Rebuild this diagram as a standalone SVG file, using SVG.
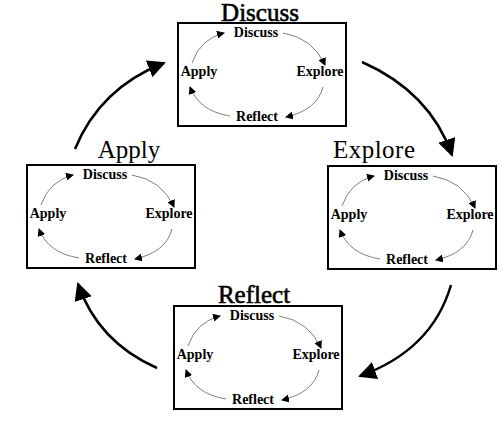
<svg xmlns="http://www.w3.org/2000/svg" width="503" height="428" viewBox="0 0 503 428">
<style>
.box{fill:#fff;stroke:#000;stroke-width:2}
.title{font-family:"Liberation Serif",serif;font-size:25px;text-anchor:middle;fill:#000}
.heavy{stroke:#000;stroke-width:0.6}
.lbl{font-family:"Liberation Serif",serif;font-size:14px;font-weight:bold;text-anchor:middle;fill:#000}
.arc{fill:none;stroke:#808080;stroke-width:1;marker-end:url(#sm)}
.big{fill:none;stroke:#000;stroke-width:2.5;marker-end:url(#bg)}
</style>
<defs>
<marker id="sm" markerUnits="userSpaceOnUse" markerWidth="8" markerHeight="8" refX="7" refY="4" orient="auto" viewBox="0 0 8 8"><path d="M0,0 L8,4 L0,8 z" fill="#000"/></marker>
<marker id="bg" markerUnits="userSpaceOnUse" markerWidth="18" markerHeight="18" refX="16" refY="9" orient="auto" viewBox="0 0 18 18"><path d="M0,0 L18,9 L0,18 z" fill="#000"/></marker>
</defs>
<g id="connectors">
<path class="big" d="M75,149 Q100,88 164,63"/>
<path class="big" d="M362,62 Q430,92 452,155"/>
<path class="big" d="M451,285 Q432,350 360,376"/>
<path class="big" d="M157,368 Q98,342 78,284"/>
</g>
<g id="discuss">
<text class="title heavy" x="260" y="21">Discuss</text>
<g transform="translate(178,23)">
<rect class="box" x="0" y="0" width="168" height="103"/>
<path class="arc" d="M105,10 Q135,15 147,42"/>
<path class="arc" d="M145,64 Q139,87 108,94"/>
<path class="arc" d="M52,93 Q21,88 12,64"/>
<path class="arc" d="M14,40 Q22,16 46,10"/>
<text class="lbl" x="78" y="14">Discuss</text>
<text class="lbl" x="21" y="53">Apply</text>
<text class="lbl" x="142" y="53">Explore</text>
<text class="lbl" x="79" y="98">Reflect</text>
</g>
</g>
<g id="apply">
<text class="title" x="129" y="158">Apply</text>
<g transform="translate(27,165)">
<rect class="box" x="0" y="0" width="168" height="103"/>
<path class="arc" d="M105,10 Q135,15 147,42"/>
<path class="arc" d="M145,64 Q139,87 108,94"/>
<path class="arc" d="M52,93 Q21,88 12,64"/>
<path class="arc" d="M14,40 Q22,16 46,10"/>
<text class="lbl" x="78" y="14">Discuss</text>
<text class="lbl" x="21" y="53">Apply</text>
<text class="lbl" x="142" y="53">Explore</text>
<text class="lbl" x="79" y="98">Reflect</text>
</g>
</g>
<g id="explore">
<text class="title" x="374" y="158" textLength="82" lengthAdjust="spacing">Explore</text>
<g transform="translate(328,166)">
<rect class="box" x="0" y="0" width="168" height="103"/>
<path class="arc" d="M105,10 Q135,15 147,42"/>
<path class="arc" d="M145,64 Q139,87 108,94"/>
<path class="arc" d="M52,93 Q21,88 12,64"/>
<path class="arc" d="M14,40 Q22,16 46,10"/>
<text class="lbl" x="78" y="14">Discuss</text>
<text class="lbl" x="21" y="53">Apply</text>
<text class="lbl" x="142" y="53">Explore</text>
<text class="lbl" x="79" y="98">Reflect</text>
</g>
</g>
<g id="reflect">
<text class="title heavy" x="254" y="303">Reflect</text>
<g transform="translate(174,306)">
<rect class="box" x="0" y="0" width="168" height="103"/>
<path class="arc" d="M105,10 Q135,15 147,42"/>
<path class="arc" d="M145,64 Q139,87 108,94"/>
<path class="arc" d="M52,93 Q21,88 12,64"/>
<path class="arc" d="M14,40 Q22,16 46,10"/>
<text class="lbl" x="78" y="14">Discuss</text>
<text class="lbl" x="21" y="53">Apply</text>
<text class="lbl" x="142" y="53">Explore</text>
<text class="lbl" x="79" y="98">Reflect</text>
</g>
</g>
</svg>
